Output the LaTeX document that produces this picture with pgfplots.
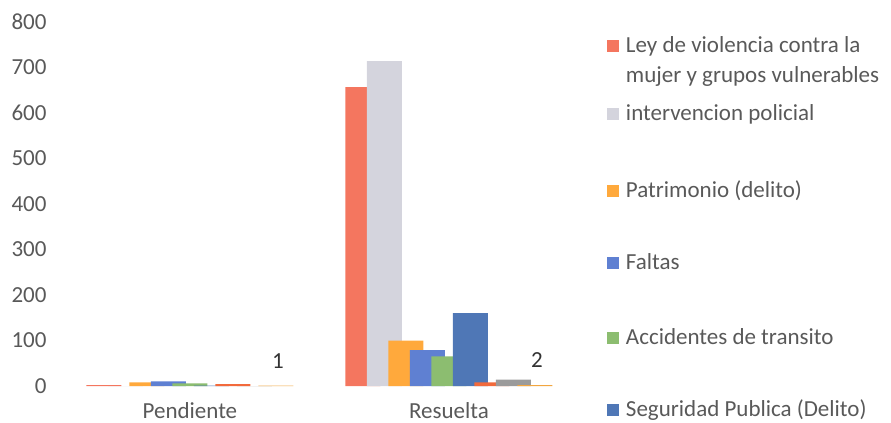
\documentclass[border=0pt]{standalone}
\usepackage{fontspec}
\setmainfont{Carlito}
\usepackage{pgfplots}
\pgfplotsset{compat=1.18}

\definecolor{c1}{HTML}{F4765F}
\definecolor{c2}{HTML}{D4D4DD}
\definecolor{c3}{HTML}{FFA93C}
\definecolor{c4}{HTML}{5F80D2}
\definecolor{c5}{HTML}{8CBD70}
\definecolor{c6}{HTML}{4F77B6}
\definecolor{c7}{HTML}{F26A3C}
\definecolor{c8}{HTML}{9B9B9B}
\definecolor{c9}{HTML}{F2A640}
\definecolor{txt}{HTML}{595959}

% strut: height #1, depth #2
\newcommand{\rs}[2]{\rule[-#2]{0pt}{\dimexpr#1+#2\relax}}
\newcommand{\chartfont}{\fontsize{23bp}{27bp}\selectfont}

\pgfplotsset{
  sq/.style={legend image code/.code={\fill[##1] (0bp,0bp) rectangle (12bp,12bp);}},
  bb/.style={ybar, bar width=35bp, bar shift=#1, draw=none, sq},
}

\begin{document}
\begin{tikzpicture}
\path[use as bounding box] (0,0) rectangle (891bp,423bp);
\begin{axis}[
  at={(70bp,37bp)}, anchor=south west, scale only axis,
  width=510bp, height=364bp,
  ymin=0, ymax=800, xmin=-0.463, xmax=1.506,
  xtick={0,1}, xticklabels={Pendiente,Resuelta},
  ytick={0,100,...,800},
  axis line style={draw=none}, tick style={draw=none},
  ticklabel style={font=\chartfont, text=txt},
  /pgf/number format/assume math mode=true,
  yticklabel style={xshift=-20bp},
  xticklabel style={yshift=-13bp},
  clip=false,
  legend style={draw=none, fill=none, inner sep=0pt, outer sep=0pt,
    at={(1.0529,0.9643)}, anchor=north west, row sep=0pt, column sep=7bp,
    font=\chartfont, text=txt,
    nodes={inner sep=0pt, text depth=}, cells={anchor=base west}},
]
\addplot[bb=-86bp, fill=c1] coordinates {(0,2) (1,657)};
\addlegendimage{empty legend}
\addplot[bb=-64.5bp, fill=c2] coordinates {(0,0) (1,714)};
\addplot[bb=-43bp, fill=c3] coordinates {(0,8) (1,100)};
\addplot[bb=-21.5bp, fill=c4] coordinates {(0,10) (1,79)};
\addplot[bb=0bp, fill=c5] coordinates {(0,6) (1,65)};
\addplot[bb=21.5bp, fill=c6] coordinates {(0,1) (1,160)};
\addplot[bb=43bp, fill=c7, forget plot] coordinates {(0,4) (1,8)};
\addplot[bb=64.5bp, fill=c8, forget plot] coordinates {(0,0) (1,14)};
\addplot[bb=86bp, fill=c9, forget plot, nodes near coords,
  nodes near coords style={font=\chartfont, text=black!80, xshift=88bp, yshift=14bp}]
  coordinates {(0,1) (1,2)};
\legend{\rs{17bp}{13bp}Ley de violencia contra la,
  \rs{17bp}{21bp}mujer y grupos vulnerables,
  \rs{17bp}{60bp}intervencion policial,
  \rs{17bp}{55bp}Patrimonio (delito),
  \rs{17bp}{58bp}Faltas,
  \rs{17bp}{55bp}Accidentes de transito,
  \rs{17bp}{5bp}Seguridad Publica (Delito)}
\end{axis}
\end{tikzpicture}
\end{document}
